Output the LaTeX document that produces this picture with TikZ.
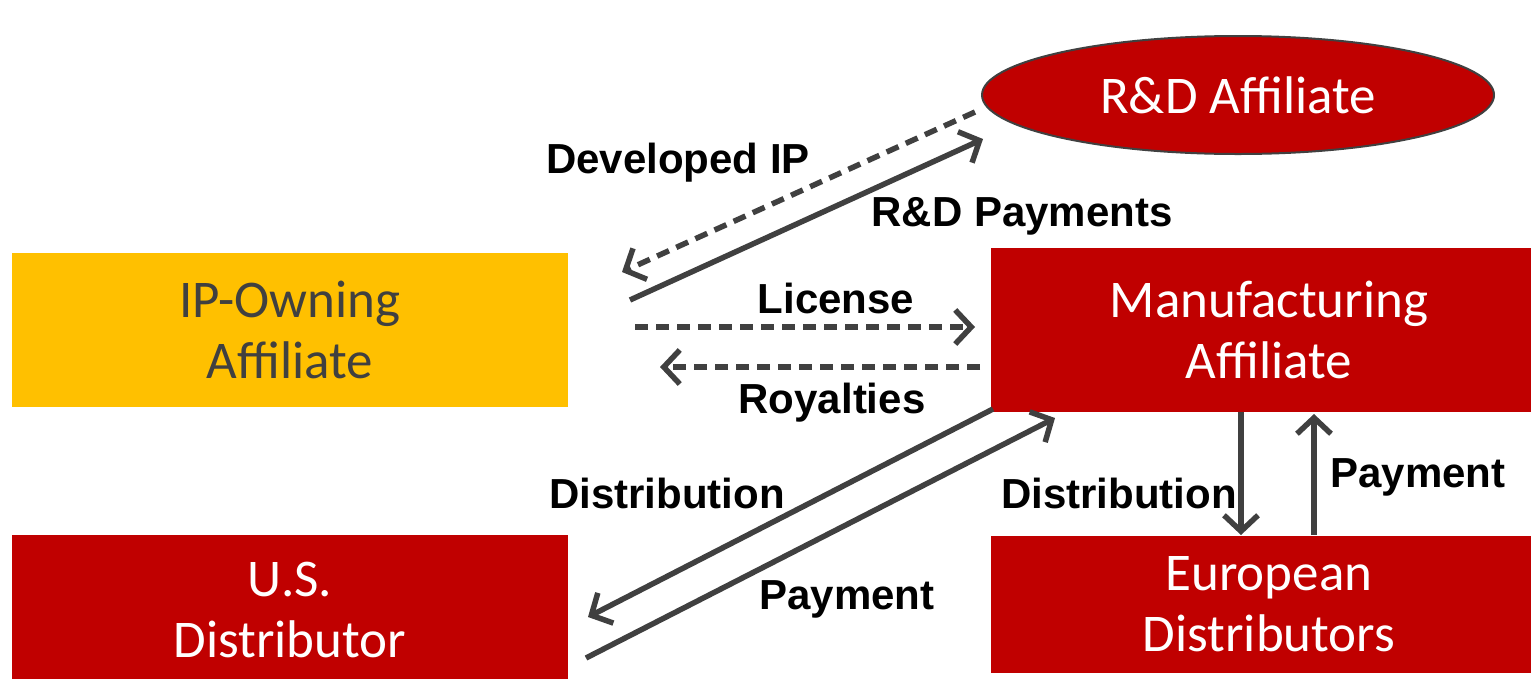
\documentclass[tikz,border=0pt]{standalone}
\usepackage{fontspec}
\setmainfont{Carlito}
\newfontfamily\labelfont{Liberation Sans}
\usetikzlibrary{arrows.meta,shapes.geometric}
\definecolor{boxred}{HTML}{C00000}
\definecolor{gold}{HTML}{FFC000}
\definecolor{ink}{HTML}{404040}
\begin{document}
\begin{tikzpicture}[x=1pt,y=-1pt,
  box/.style={rectangle, inner sep=0pt, align=center,
    font=\fontsize{53}{61}\selectfont},
  redbox/.style={box, fill=boxred, text=white},
  flow/.style={draw=ink, line width=5.5pt,
    -{Straight Barb[length=16pt,width=34pt]}},
  dashflow/.style={flow, dash pattern=on 13pt off 8pt},
  lbl/.style={anchor=base, inner sep=0pt,
    font=\labelfont\bfseries\fontsize{42}{48}\selectfont}]

\clip (0,0) rectangle (1531,678);
\fill[white] (0,0) rectangle (1531,678);

% entities
\node[ellipse, fill=boxred, draw=ink, line width=2pt, text=white,
  minimum width=512pt, minimum height=118pt, inner sep=0pt,
  font=\fontsize{53}{61}\selectfont] (rd) at (1238,95) {R\&D Affiliate};
\node[box, fill=gold, text=ink, minimum width=556pt, minimum height=154pt]
  (ipo) at (290,330) {IP-Owning\\Affiliate};
\node[redbox, minimum width=556pt, minimum height=164pt]
  (mfg) at (1269,330) {Manufacturing\\Affiliate};
\node[redbox, minimum width=556pt, minimum height=150pt]
  (usd) at (290,610) {U.S.\\Distributor};
\node[redbox, minimum width=556pt, minimum height=137pt]
  (eud) at (1269,604.5) {European\\Distributors};

% connector end points
\coordinate (devS) at (975,112);
\coordinate (devE) at (622,272);
\coordinate (rdpS) at (630,300);
\coordinate (rdpE) at (983,139);
\coordinate (licS) at (635,327);
\coordinate (licE) at (975,327);
\coordinate (royS) at (980,367);
\coordinate (royE) at (660,367);
\coordinate (disS) at (993,409);
\coordinate (disE) at (588,617);
\coordinate (payS) at (586,658);
\coordinate (payE) at (1055,418);
\coordinate (edS) at (1241,412);
\coordinate (edE) at (1241,535);
\coordinate (epS) at (1314,535);
\coordinate (epE) at (1314,414);

% flows
\draw[dashflow] (devS) -- (devE);
\draw[flow] (rdpS) -- (rdpE);
\draw[dashflow] (licS) -- (licE);
\draw[dashflow] (royS) -- (royE);
\draw[flow] (disS) -- (disE);
\draw[flow] (payS) -- (payE);
\draw[flow] (edS) -- (edE);
\draw[flow] (epS) -- (epE);

% flow labels
\node[lbl] (lDev) at (678,173) {Developed IP};
\node[lbl] (lRdp) at (1022,226) {R\&D Payments};
\node[lbl] (lLic) at (836,313) {License};
\node[lbl] (lRoy) at (832,413) {Royalties};
\node[lbl] (lDis) at (667,508) {Distribution};
\node[lbl] (lPay) at (847,609) {Payment};
\node[lbl] (lDis2) at (1119,508) {Distribution};
\node[lbl] (lPay2) at (1418,487) {Payment};
\end{tikzpicture}
\end{document}
